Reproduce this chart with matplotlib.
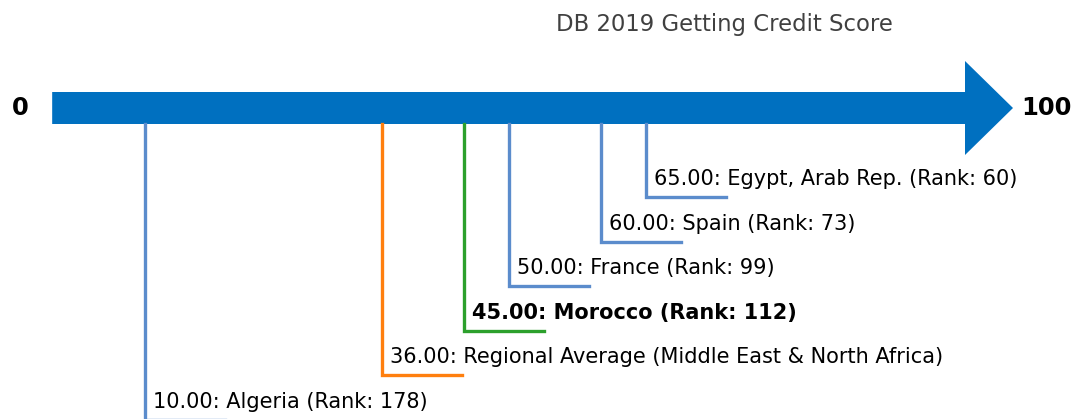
import matplotlib.pyplot as plt
from matplotlib.patches import Polygon

names = ["Algeria", "Regional Average (Middle East & North Africa)", "Morocco",
         "France", "Spain", "Egypt, Arab Rep."]
scores = [10.0, 36.0, 45.0, 50.0, 60.0, 65.0]
ranks = [178, None, 112, 99, 73, 60]
colors = ["#5b8ccc", "#ff7f0e", "#2ca02c", "#5b8ccc", "#5b8ccc", "#5b8ccc"]
bold = [False, False, True, False, False, False]

fig = plt.figure(figsize=(10.71, 4.19), dpi=100)
ax = fig.add_axes([0, 0, 1, 1])
px = 9.11  # pixels per score unit
ax.set_xlim(-54 / px, (1071 - 54) / px)
ax.set_ylim(419, 0)
ax.axis("off")

# main arrow 0 -> 100
ay = 108
body = 16
head = 47
hl = 48 / px
arrow = Polygon([(-0.2, ay - body), (100, ay - body), (100, ay - head),
                 (100 + hl, ay), (100, ay + head), (100, ay + body),
                 (-0.2, ay + body)], closed=True, color="#0070c0", lw=0)
ax.add_patch(arrow)
ax.text(-3.7, ay, "0", fontsize=17.5, fontweight="bold", ha="center", va="center")
ax.text(100.9 + hl, ay, "100", fontsize=17.5, fontweight="bold", ha="left", va="center")
ax.text(73.6, 24, "DB 2019 Getting Credit Score", fontsize=16.4, color="#404040",
        ha="center", va="center")

order = sorted(range(len(scores)), key=lambda i: -scores[i])
for k, i in enumerate(order):
    y = 197 + 44.5 * k
    x = scores[i]
    ax.plot([x, x, x + 80 / px], [ay + body, y, y], color=colors[i], lw=2.4,
            solid_joinstyle="miter")
    label = f"{scores[i]:.2f}: {names[i]}"
    if ranks[i] is not None:
        label += f" (Rank: {ranks[i]})"
    ax.text(x + 8 / px, y - 12, label, fontsize=15,
            fontweight="bold" if bold[i] else "normal", ha="left", va="baseline")

fig.savefig("out.png", dpi=100)
